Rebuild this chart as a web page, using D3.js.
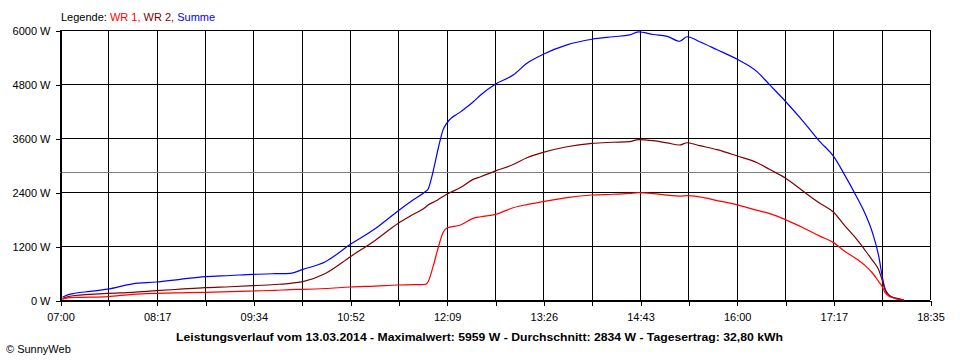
<!DOCTYPE html>
<html>
<head>
<meta charset="utf-8">
<script src="https://cdn.jsdelivr.net/npm/d3@7"></script>
<style>
html,body{margin:0;padding:0;background:#fff;}
svg{display:block;}
</style>
</head>
<body>
<svg id="chart" width="960" height="360"></svg>
<script>
// ---- data ----
const times = ["07:02","07:04","07:12","07:24","07:38","07:58","08:17","08:36","08:56","09:16",
  "09:34","09:52","10:04","10:14","10:32","10:52","11:12","11:30","11:42","11:52",
  "11:54","11:58","12:02","12:06","12:09","12:20","12:30","12:36","12:48","13:02",
  "13:13","13:26","13:45","14:05","14:22","14:35","14:42","14:54","15:05","15:15",
  "15:21","15:31","15:45","16:01","16:17","16:27","16:40","16:54","17:07","17:18",
  "17:26","17:37","17:43","17:49","17:54","17:57","17:59","18:02","18:05","18:09","18:14"];
const wr1 = [20,37,59,62,74,126,148,160,170,185,
  200,215,230,237,255,289,310,333,340,348,
  400,740,1150,1500,1600,1667,1815,1850,1904,2050,
  2120,2185,2274,2333,2350,2370,2385,2365,2330,2310,
  2320,2290,2210,2115,1990,1920,1780,1600,1420,1275,
  1100,900,770,600,410,290,170,90,55,20,0];
const wr2 = [20,52,100,125,148,170,207,240,274,295,
  318,345,370,410,590,963,1330,1700,1900,2060,
  2110,2170,2230,2300,2350,2500,2680,2740,2870,3010,
  3160,3280,3405,3480,3505,3520,3565,3540,3490,3445,
  3495,3430,3340,3200,3050,2900,2700,2410,2150,1950,
  1680,1330,1110,880,670,420,230,115,60,25,0];
const summe = [60,90,150,190,240,360,400,460,520,545,
  570,585,593,680,852,1237,1590,1980,2222,2410,
  2460,2850,3350,3780,3930,4180,4400,4555,4800,5000,
  5260,5460,5670,5795,5850,5890,5959,5900,5860,5750,
  5850,5740,5560,5350,5070,4780,4400,3960,3520,3190,
  2820,2260,1930,1500,980,500,260,115,60,35,0];
const xTickLabels = ["07:00","08:17","09:34","10:52","12:09","13:26","14:43","16:00","17:17","18:35"];
const yTicks = [0,1200,2400,3600,4800,6000];
const average = 2834;
const legendItems = [{name:"WR 1", color:"#ff0000"},{name:"WR 2", color:"#800000"},{name:"Summe", color:"#0000ff"}];
const titleText = "Leistungsverlauf vom 13.03.2014 - Maximalwert: 5959 W - Durchschnitt: 2834 W - Tagesertrag: 32,80 kWh";

// ---- chart ----
const svg = d3.select("#chart");
const font = "'Liberation Sans', Arial, sans-serif";
const parse = d3.timeParse("%H:%M");
const t0 = parse("07:00"), t1 = parse("18:35");
const x = d3.scaleTime().domain([t0, t1]).range([60, 930]);
const y = d3.scaleLinear().domain([0, 6000]).range([300, 30]);

svg.append("rect").attr("width",960).attr("height",360).attr("fill","#fff");

// grid positions: 18 equal intervals, labels on every second
const gridTimes = d3.range(19).map(i => new Date(+t0 + i * (t1 - t0) / 18));

const grid = svg.append("g").attr("shape-rendering","crispEdges");
grid.selectAll("line.h").data(yTicks).join("line")
  .attr("x1", 60).attr("x2", 930)
  .attr("y1", d => Math.round(y(d)) + 0.5).attr("y2", d => Math.round(y(d)) + 0.5)
  .attr("stroke", "#000");
grid.selectAll("line.v").data(gridTimes).join("line")
  .attr("x1", d => Math.round(x(d)) + 0.5).attr("x2", d => Math.round(x(d)) + 0.5)
  .attr("y1", 30).attr("y2", 300)
  .attr("stroke", "#000");
grid.append("line")
  .attr("x1", 60).attr("x2", 930)
  .attr("y1", Math.round(y(average)) + 0.5).attr("y2", Math.round(y(average)) + 0.5)
  .attr("stroke", "#808080");

// axes
const yAxis = d3.axisLeft(y).tickValues(yTicks).tickSize(5).tickPadding(5)
  .tickFormat(d => d + " W");
const yg = svg.append("g").attr("transform","translate(60.5,0.5)").call(yAxis);
const xAxis = d3.axisBottom(x).tickValues(gridTimes).tickSize(5).tickSizeOuter(0).tickPadding(8)
  .tickFormat((d, i) => i % 2 === 0 ? xTickLabels[i / 2] : "");
const xg = svg.append("g").attr("transform","translate(0.5,300.5)").call(xAxis);
[yg, xg].forEach(g => {
  g.attr("font-family", font).attr("font-size", 11);
  g.selectAll("line").attr("stroke","#000").attr("shape-rendering","crispEdges");
  g.selectAll("path").attr("stroke","#000").attr("shape-rendering","crispEdges");
  g.selectAll("text").attr("fill","#000");
});

// series
const series = [
  {values: summe, color: "#0000ff"},
  {values: wr2, color: "#800000"},
  {values: wr1, color: "#ff0000"}
];
const line = d3.line().curve(d3.curveMonotoneX).x(d => x(d.t)).y(d => y(d.v));
series.forEach(s => {
  const pts = times.map((t, i) => ({t: parse(t), v: s.values[i]}));
  svg.append("path").datum(pts)
    .attr("d", line)
    .attr("fill","none")
    .attr("stroke", s.color)
    .attr("stroke-width", 1.2)
    .attr("stroke-linejoin","round");
});

// legend
const leg = svg.append("text").attr("x", 61).attr("y", 21)
  .attr("font-family", font).attr("font-size", 11);
leg.append("tspan").attr("fill","#000").text("Legende: ");
legendItems.forEach((it, i) => {
  leg.append("tspan").attr("fill", it.color)
    .text(it.name + (i < legendItems.length - 1 ? ", " : ""));
});

// title
svg.append("text").attr("x", 176).attr("y", 341)
  .attr("font-family", font).attr("font-size", 11).attr("font-weight","bold")
  .attr("textLength", 607).attr("lengthAdjust","spacingAndGlyphs")
  .attr("fill","#000").text(titleText);

// copyright
svg.append("text").attr("x", 6).attr("y", 353)
  .attr("font-family", font).attr("font-size", 11)
  .attr("fill","#000").text("© SunnyWeb");
</script>
</body>
</html>
